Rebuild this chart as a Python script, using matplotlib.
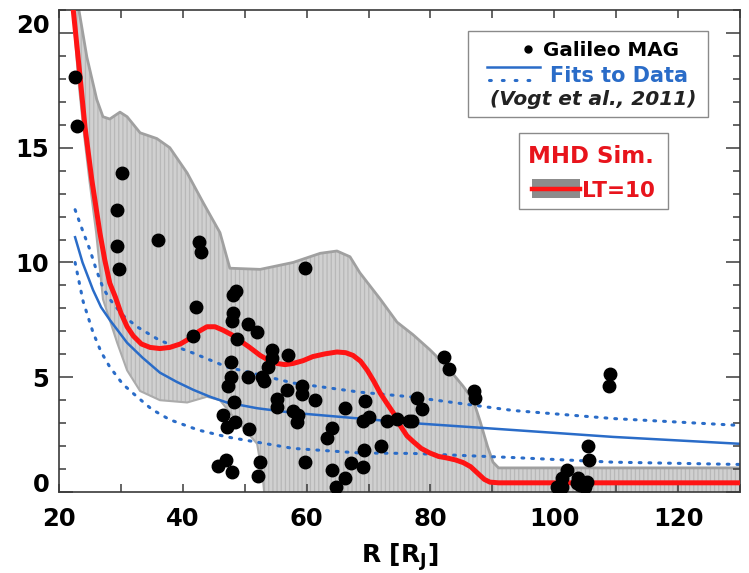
import matplotlib
matplotlib.use('Agg')
import matplotlib.pyplot as plt
import matplotlib.patches as patches
from matplotlib.lines import Line2D

plt.rcParams['font.family'] = ['DejaVu Sans']
plt.rcParams['font.weight'] = 'bold'
plt.rcParams['hatch.linewidth'] = 0.9

# Galileo MAG measurements
mag_r = [22.6, 22.9, 30.2, 29.4, 29.4, 29.7, 36.0, 42.6, 42.9, 59.7,
         48.6, 48.1, 42.1, 48.1, 48.0, 50.5, 52.0, 41.7, 48.8, 54.4,
         57.0, 54.4, 47.8, 53.8, 50.5, 52.8, 53.1, 47.8, 47.3, 56.8,
         59.3, 59.3, 61.4, 55.2, 55.2, 57.8, 58.6, 58.5, 48.3, 46.5,
         48.4, 47.1, 50.7, 66.2, 69.4, 69.1, 70.1, 73.0, 74.6, 76.5,
         64.1, 63.3, 69.3, 72.0, 45.7, 47.0, 48.0, 52.5, 52.2, 59.7,
         64.1, 66.2, 67.2, 69.1, 64.8, 77.0, 77.8, 78.6, 82.2, 83.0,
         87.0, 87.2, 109.0, 108.9, 105.5, 105.6, 102.1, 101.3, 100.5, 101.3,
         103.9, 104.2, 105.3, 105.0, 103.7]
mag_b = [18.1, 15.95, 13.9, 12.3, 10.7, 9.7, 11.0, 10.9, 10.45, 9.75,
         8.75, 8.6, 8.05, 7.8, 7.45, 7.3, 6.95, 6.8, 6.65, 6.2,
         5.95, 5.85, 5.65, 5.45, 5.0, 5.0, 4.85, 5.0, 4.6, 4.45,
         4.6, 4.25, 4.0, 4.05, 3.7, 3.55, 3.35, 3.05, 3.9, 3.35,
         3.05, 2.85, 2.75, 3.65, 3.95, 3.1, 3.25, 3.1, 3.2, 3.1,
         2.8, 2.35, 1.85, 2.0, 1.15, 1.4, 0.85, 1.3, 0.7, 1.3,
         0.95, 0.6, 1.25, 1.1, 0.2, 3.1, 4.1, 3.6, 5.9, 5.35,
         4.4, 4.1, 5.15, 4.6, 2.0, 1.4, 0.95, 0.6, 0.2, 0.2,
         0.6, 0.3, 0.45, 0.2, 0.4]

# Vogt et al. (2011) fit and its bounds
fit_r = [22.6, 23.8, 25.5, 26.8, 28.2, 31.0, 33.5, 36.3, 39.0, 41.7, 44.4,
         47.1, 52.0, 57.8, 68.6, 77.2, 93.4, 109.5, 130.0]
fit_b = [11.1, 10.0, 8.8, 8.05, 7.5, 6.5, 5.85, 5.2, 4.8, 4.45, 4.15,
         3.9, 3.65, 3.45, 3.2, 3.0, 2.7, 2.4, 2.1]
fit_hi_r = [22.6, 23.8, 25.0, 26.0, 27.1, 28.2, 30.3, 32.6, 36.3, 41.7, 47.1,
            57.8, 68.6, 76.7, 93.4, 109.5, 130.0]
fit_hi_b = [12.3, 11.4, 10.55, 9.7, 8.9, 8.4, 7.7, 7.2, 6.6, 6.05, 5.45,
            4.75, 4.35, 4.15, 3.55, 3.2, 2.9]
fit_lo_r = [22.6, 23.9, 25.5, 26.8, 28.2, 30.3, 32.6, 35.0, 37.9, 42.5, 47.1,
            57.8, 68.6, 77.2, 93.4, 109.5, 130.0]
fit_lo_b = [10.0, 8.3, 6.95, 6.1, 5.45, 4.7, 4.15, 3.6, 3.15, 2.7, 2.4,
            1.9, 1.7, 1.68, 1.5, 1.3, 1.2]

# MHD simulation, LT=10
mhd_r = [22.2, 22.3, 23.4, 24.2, 25.3, 26.6, 27.4, 28.2, 29.1, 30.0, 31.0,
         32.0, 33.3, 34.7, 36.3, 37.9, 39.6, 41.2, 42.6, 43.9, 45.2,
         46.5, 47.9, 49.2, 50.8, 52.5, 53.8, 55.2, 56.5, 57.8, 59.4,
         61.0, 63.0, 64.9, 66.3, 67.5, 68.7, 69.8, 70.8, 71.9, 73.0,
         74.0, 75.1, 76.2, 77.2, 78.5, 79.9, 81.3, 82.7, 84.0, 85.3,
         86.5, 87.5, 88.7, 89.6, 91.0, 130.0]
mhd_b = [21.4, 21.0, 18.1, 15.9, 13.6, 11.3, 10.1, 9.1, 8.5, 7.8, 7.2,
         6.8, 6.45, 6.3, 6.25, 6.3, 6.45, 6.7, 7.0, 7.2, 7.2,
         7.05, 6.85, 6.6, 6.3, 5.95, 5.75, 5.6, 5.55, 5.6, 5.72,
         5.9, 6.02, 6.1, 6.07, 5.95, 5.7, 5.3, 4.85, 4.3, 3.85,
         3.45, 2.9, 2.45, 2.2, 1.9, 1.7, 1.55, 1.48, 1.4, 1.28,
         1.1, 0.85, 0.55, 0.43, 0.4, 0.4]

# MHD simulation spread (upper / lower envelope)
env_hi_r = [22.9, 24.5, 26.1, 27.1, 28.2, 29.85, 31.0, 33.1, 35.8, 37.9, 40.7,
            43.3, 46.0, 47.6, 52.5, 57.8, 62.2, 64.9, 67.0, 68.6, 71.9,
            74.6, 77.2, 79.9, 82.7, 85.3, 86.9, 88.0, 89.2, 90.1, 91.0, 130.0]
env_hi_b = [21.5, 18.95, 17.1, 16.35, 16.25, 16.55, 16.35, 15.65, 15.4, 15.0, 13.9,
            12.6, 11.3, 9.75, 9.7, 10.0, 10.4, 10.5, 10.25, 9.55, 8.4,
            7.4, 6.85, 6.2, 5.45, 4.6, 4.0, 3.1, 2.0, 1.3, 1.05, 1.05]
env_lo_r = [22.1, 23.1, 23.9, 24.9, 26.0, 27.1, 29.4, 31.0, 33.1, 36.3, 40.7,
            43.9, 46.0, 48.1, 50.4, 52.0, 52.5, 53.0, 53.3, 130.0]
env_lo_b = [21.5, 18.0, 15.9, 13.6, 11.3, 8.4, 6.5, 5.3, 4.4, 4.0, 3.9,
            4.15, 4.0, 3.3, 2.6, 2.1, 1.3, 0.4, -0.5, -0.5]

x_ticks = [20, 40, 60, 80, 100, 120]
y_ticks = [0, 5, 10, 15, 20]

W, H = 749, 573
fig = plt.figure(figsize=(W / 100, H / 100), dpi=100)
ax = fig.add_axes([59 / W, 1 - 492 / H, 681 / W, 482 / H])

blue = '#2a6cc8'
red = '#ff1414'

poly_r = env_hi_r + env_lo_r[::-1]
poly_b = env_hi_b + env_lo_b[::-1]
ax.fill(poly_r, poly_b, facecolor='#d0d0d0', edgecolor='none', zorder=1)
ax.fill(poly_r, poly_b, facecolor='none', edgecolor='#b8b8b8', hatch='||||',
        linewidth=0, zorder=1.1)
ax.plot(env_hi_r, env_hi_b, color='#a0a0a0', lw=2, zorder=1.2)
ax.plot(env_lo_r, env_lo_b, color='#ababab', lw=1.5, zorder=1.2)

ax.plot(fit_r, fit_b, color=blue, lw=1.8, zorder=2)
ax.plot(fit_hi_r, fit_hi_b, color=blue, lw=2.2, ls=(0, (0.6, 2.6)),
        dash_capstyle='round', zorder=2)
ax.plot(fit_lo_r, fit_lo_b, color=blue, lw=2.2, ls=(0, (0.6, 2.6)),
        dash_capstyle='round', zorder=2)

ax.plot(mhd_r, mhd_b, color=red, lw=3.6, zorder=3)

ax.plot(mag_r, mag_b, 'o', color='black', ms=9, zorder=4)

ax.set_xlim(20, 130)
ax.set_ylim(0, 21)
ax.set_xticks(x_ticks)
ax.set_xticks(range(30, 131, 20), minor=True)
ax.set_yticks(y_ticks)
ax.set_yticks([v for v in range(0, 22) if v % 5], minor=True)

for s in ax.spines.values():
    s.set_color('#3a3a3a')
    s.set_linewidth(1.2)
ax.tick_params(which='both', direction='in', top=True, right=True,
               color='#3a3a3a', width=1.1, labelsize=17.5)
ax.tick_params(axis='x', which='both', length=5.8, pad=11)
ax.tick_params(axis='y', which='major', length=10, pad=7)
ax.tick_params(axis='y', which='minor', length=5)
for lab in ax.get_yticklabels():
    if lab.get_text() in ('0', '20'):
        lab.set_verticalalignment('baseline')

ax.set_xlabel('R [R$_\\mathbf{J}$]', fontsize=18, fontweight='bold', labelpad=7)


def fpos(x, y):
    return x / W, 1 - y / H


# legend boxes
for (x0, y0, x1, y1) in [(468, 31, 708, 117), (519, 133, 668, 209)]:
    fig.add_artist(patches.Rectangle(fpos(x0, y1), (x1 - x0) / W, (y1 - y0) / H,
                                     transform=fig.transFigure, facecolor='white',
                                     edgecolor='#8a8a8a', lw=1, zorder=10))

fig.add_artist(Line2D([528 / W], [1 - 49 / H], marker='o', ms=5, color='black',
                      transform=fig.transFigure, zorder=11))
fig.text(*fpos(543, 56), 'Galileo MAG', fontsize=14.3, color='black',
         va='baseline', ha='left', zorder=11)
fig.add_artist(Line2D([487 / W, 540 / W], [1 - 67 / H] * 2, color=blue, lw=1.8,
                      transform=fig.transFigure, zorder=11))
fig.add_artist(Line2D([489 / W, 540 / W], [1 - 80 / H] * 2, color=blue, lw=2.2,
                      ls=(0, (0.6, 3.6)), dash_capstyle='round',
                      transform=fig.transFigure, zorder=11))
fig.text(*fpos(550, 82), 'Fits to Data', fontsize=15, color=blue,
         va='baseline', ha='left', zorder=11)
fig.text(*fpos(490, 105), '(Vogt et al., 2011)', fontsize=14.5, color='#222222',
         style='italic', va='baseline', ha='left', zorder=11)

fig.text(*fpos(528, 163), 'MHD Sim.', fontsize=16.5, color='#e8141c',
         va='baseline', ha='left', zorder=11)
fig.add_artist(patches.Rectangle(fpos(532, 198), 48 / W, 19 / H,
                                 transform=fig.transFigure, facecolor='#8c8c8c',
                                 edgecolor='none', zorder=11))
fig.add_artist(Line2D([532 / W, 580 / W], [1 - 189 / H] * 2, color=red, lw=3.2,
                      transform=fig.transFigure, zorder=12))
fig.text(*fpos(582, 197), 'LT=10', fontsize=15.5, color='#e8141c',
         va='baseline', ha='left', zorder=11)

fig.savefig('out.png', dpi=100)
